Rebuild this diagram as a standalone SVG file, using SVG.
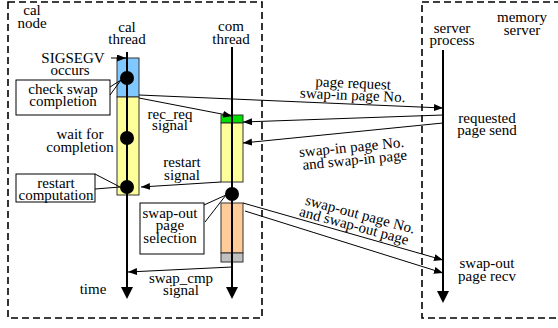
<svg xmlns="http://www.w3.org/2000/svg" width="558" height="328" viewBox="0 0 558 328" font-family="'Liberation Serif', 'DejaVu Serif', serif">
  <style>
    text { font-family: "Liberation Serif", "DejaVu Serif", serif; font-size: 15px; fill: #000; text-anchor: middle; }
    .box { fill: none; stroke: #000; stroke-width: 1.6; stroke-dasharray: 7 4; }
    .life { stroke: #000; stroke-width: 2; fill: none; }
    .msg { stroke: #000; stroke-width: 1; fill: none; marker-end: url(#ah); }
    .act { stroke: #333; stroke-width: 1; }
    .callout { fill: #fff; stroke: #000; stroke-width: 1; }
    .wedge { fill: none; stroke: #000; stroke-width: 1; }
  </style>
  <defs>
    <marker id="ah" markerUnits="userSpaceOnUse" markerWidth="10" markerHeight="8" refX="9" refY="3.5" orient="auto">
      <path d="M0,0 L9,3.5 L0,7 z" fill="#000"/>
    </marker>
  </defs>
  <rect width="558" height="328" fill="#fff"/>

  <!-- cal node boundary -->
  <g id="cal-node">
    <rect class="box" x="8" y="2" width="254" height="316"/>
    <text x="32" y="15">cal<tspan x="32" dy="13">node</tspan></text>
  </g>

  <!-- memory server boundary -->
  <g id="memory-server">
    <rect class="box" x="422" y="2" width="140" height="316"/>
    <text x="522" y="22">memory<tspan x="522" dy="13">server</tspan></text>
  </g>

  <!-- cal thread lifeline -->
  <g id="cal-thread">
    <text x="127" y="32">cal<tspan x="127" dy="12">thread</tspan></text>
    <rect class="act" x="117" y="58" width="22" height="39" fill="#80c8ff"/>
    <rect class="act" x="117" y="97" width="22" height="98" fill="#ffff99"/>
    <line class="life" x1="127" y1="52" x2="127" y2="288"/>
    <polygon points="121,287 133,287 127,299" fill="#000"/>
    <circle cx="127" cy="78" r="7" fill="#000"/>
    <circle cx="127" cy="138" r="7" fill="#000"/>
    <circle cx="127" cy="187" r="7" fill="#000"/>
    <text x="73" y="63">SIGSEGV<tspan x="70" dy="12">occurs</tspan></text>
    <line x1="111" y1="58" x2="126" y2="58" stroke="#000" stroke-width="1" marker-end="url(#ah)"/>
    <text x="80" y="139">wait for<tspan x="80" dy="13">completion</tspan></text>
    <text x="93" y="294">time</text>
  </g>

  <!-- com thread lifeline -->
  <g id="com-thread">
    <text x="231" y="31">com<tspan x="231" dy="13">thread</tspan></text>
    <rect class="act" x="221" y="115" width="22" height="8" fill="#00e000"/>
    <rect class="act" x="221" y="123" width="22" height="59" fill="#ffff99"/>
    <rect class="act" x="221" y="203" width="22" height="50" fill="#ffcc99"/>
    <rect class="act" x="221" y="253" width="22" height="9" fill="#c0c0c0"/>
    <line class="life" x1="232" y1="47" x2="232" y2="288"/>
    <polygon points="226,287 238,287 232,299" fill="#000"/>
    <circle cx="232" cy="194" r="7" fill="#000"/>
  </g>

  <!-- server process lifeline -->
  <g id="server-process">
    <text x="452" y="33">server<tspan x="452" dy="12">process</tspan></text>
    <line class="life" x1="443" y1="50" x2="443" y2="292"/>
    <polygon points="437,291 449,291 443,303" fill="#000"/>
    <text x="487" y="123">requested<tspan x="487" dy="12">page send</tspan></text>
    <text x="487" y="268">swap-out<tspan x="487" dy="13">page recv</tspan></text>
  </g>

  <!-- callout: check swap completion -->
  <g id="check-swap">
    <rect class="callout" x="16" y="80" width="94" height="35"/>
    <polyline class="wedge" points="110,87 121,80 110,95"/>
    <text x="63" y="94">check swap<tspan x="63" dy="12">completion</tspan></text>
  </g>

  <!-- callout: restart computation -->
  <g id="restart-computation">
    <rect class="callout" x="16" y="174" width="79" height="28"/>
    <polyline class="wedge" points="95,174 120,187 95,189"/>
    <text x="56" y="188">restart<tspan x="56" dy="12">computation</tspan></text>
  </g>

  <!-- callout: swap-out page selection -->
  <g id="swap-out-selection">
    <rect class="callout" x="140" y="203" width="64" height="51"/>
    <polyline class="wedge" points="204,205 226,195 205,222"/>
    <text x="170" y="218">swap-out<tspan x="170" dy="12">page</tspan><tspan x="170" dy="13">selection</tspan></text>
  </g>

  <!-- messages between threads and server -->
  <g id="connectors">
    <line class="msg" x1="139" y1="95" x2="443" y2="108"/>
    <text transform="translate(353,88) rotate(2.5)">page request<tspan x="0" dy="12">swap-in page No.</tspan></text>

    <line class="msg" x1="443" y1="115" x2="243" y2="122"/>
    <line class="msg" x1="443" y1="123" x2="243" y2="143"/>
    <text transform="translate(352,152) rotate(-5.5)">swap-in page No.<tspan x="2" dy="13">and swap-in page</tspan></text>

    <line class="msg" x1="139" y1="98" x2="232" y2="116"/>
    <text x="170" y="119">rec_req<tspan x="170" dy="11">signal</tspan></text>

    <line class="msg" x1="221" y1="182" x2="141" y2="187"/>
    <text x="182" y="167">restart<tspan x="182" dy="13">signal</tspan></text>

    <line class="msg" x1="232" y1="267" x2="128" y2="272"/>
    <text x="181" y="283">swap_cmp<tspan x="181" dy="12">signal</tspan></text>

    <line class="msg" x1="243" y1="203" x2="443" y2="260"/>
    <line class="msg" x1="245" y1="211" x2="443" y2="273"/>
    <text transform="translate(359,219) rotate(15)">swap-out page No.<tspan x="-3" dy="12.5">and swap-out page</tspan></text>
  </g>
</svg>
